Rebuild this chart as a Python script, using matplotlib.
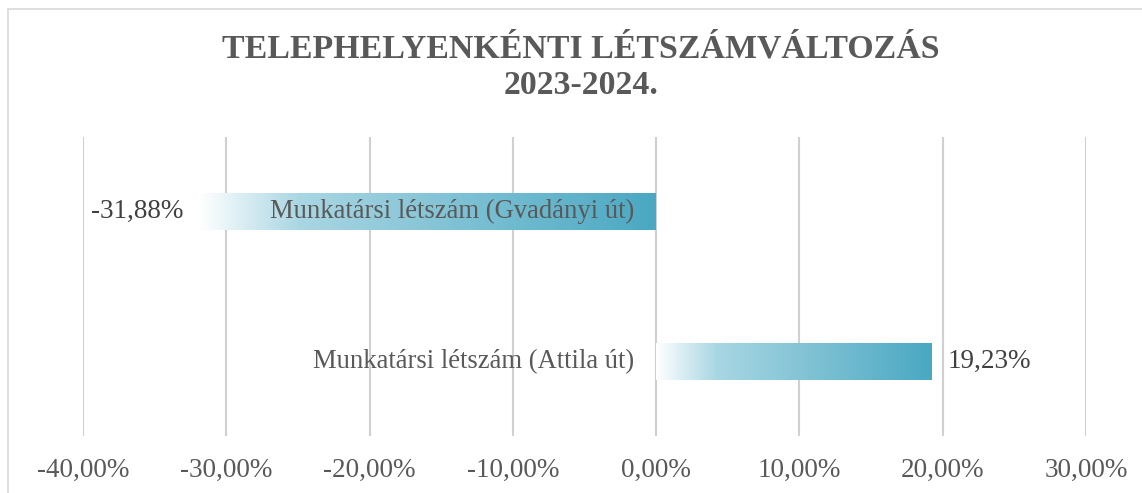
import matplotlib
matplotlib.use("Agg")
import matplotlib.pyplot as plt
import numpy as np
from matplotlib.colors import LinearSegmentedColormap
from matplotlib.patches import Rectangle
from matplotlib.ticker import FuncFormatter, MultipleLocator

categories = ["Munkatársi létszám (Gvadányi út)", "Munkatársi létszám (Attila út)"]
values = [-31.88, 19.23]
value_labels = ["-31,88%", "19,23%"]
title = "TELEPHELYENKÉNTI LÉTSZÁMVÁLTOZÁS\n2023-2024."

plt.rcParams['font.family'] = ['Liberation Serif', 'DejaVu Serif']

W, H = 1142, 493
fig = plt.figure(figsize=(W / 100, H / 100), dpi=100)
fig.patch.set_facecolor("white")

# outer chart border
fig.patches.append(Rectangle((8 / W, -0.05), 1.2, 1 - 9 / H + 0.05, transform=fig.transFigure,
                             fill=False, edgecolor="#d9d9d9", linewidth=1.2))

ax = fig.add_axes([83 / W, 1 - 436 / H, (1086 - 83) / W, (436 - 137) / H])
ax.set_xlim(-40, 30)
ax.set_ylim(1.5, -0.5)
ax.xaxis.set_major_locator(MultipleLocator(10))
ax.xaxis.set_major_formatter(FuncFormatter(lambda v, p: f"{v:.2f}".replace(".", ",") + "%"))
ax.set_yticks([])
for s in ax.spines.values():
    s.set_visible(False)
ax.grid(axis="x", color="#d0d0d0", linewidth=1.5, zorder=0)
ax.set_axisbelow(True)
ax.tick_params(axis="x", length=0, pad=16, labelsize=19.5, labelcolor="#595959")

cmap = LinearSegmentedColormap.from_list(
    "g", [(0.0, "#ffffff"), (0.22, "#a9d6e3"), (1.0, "#4aa8c2")])
grad = np.linspace(0, 1, 256).reshape(1, -1)

bars = ax.barh(range(len(values)), values, height=0.25, color="none", edgecolor="none", zorder=2)
for b in bars:
    x0, y0, w, h = b.get_x(), b.get_y(), b.get_width(), b.get_height()
    left, right = min(x0, x0 + w), max(x0, x0 + w)
    im = ax.imshow(grad, cmap=cmap, aspect="auto", extent=(left, right, y0 + h, y0),
                   zorder=2, interpolation="bilinear")
    im.set_clip_path(b)

for i, (v, lab, cat) in enumerate(zip(values, value_labels, categories)):
    if v < 0:
        ax.annotate(lab, (v, i), xytext=(-16, 0), textcoords="offset pixels",
                    ha="right", va="center", fontsize=19.5, color="#404040", zorder=3)
    else:
        ax.annotate(lab, (v, i), xytext=(16, 0), textcoords="offset pixels",
                    ha="left", va="center", fontsize=19.5, color="#404040", zorder=3)
    ax.annotate(cat, (0, i), xytext=(-22, 0), textcoords="offset pixels",
                ha="right", va="center", fontsize=19.2, color="#595959", zorder=3)

fig.text(581 / W, 1 - 67 / H, title, ha="center", va="center", fontsize=24.4,
         fontweight="bold", color="#595959", linespacing=1.25)

fig.savefig("out.png", dpi=100, facecolor="white")
